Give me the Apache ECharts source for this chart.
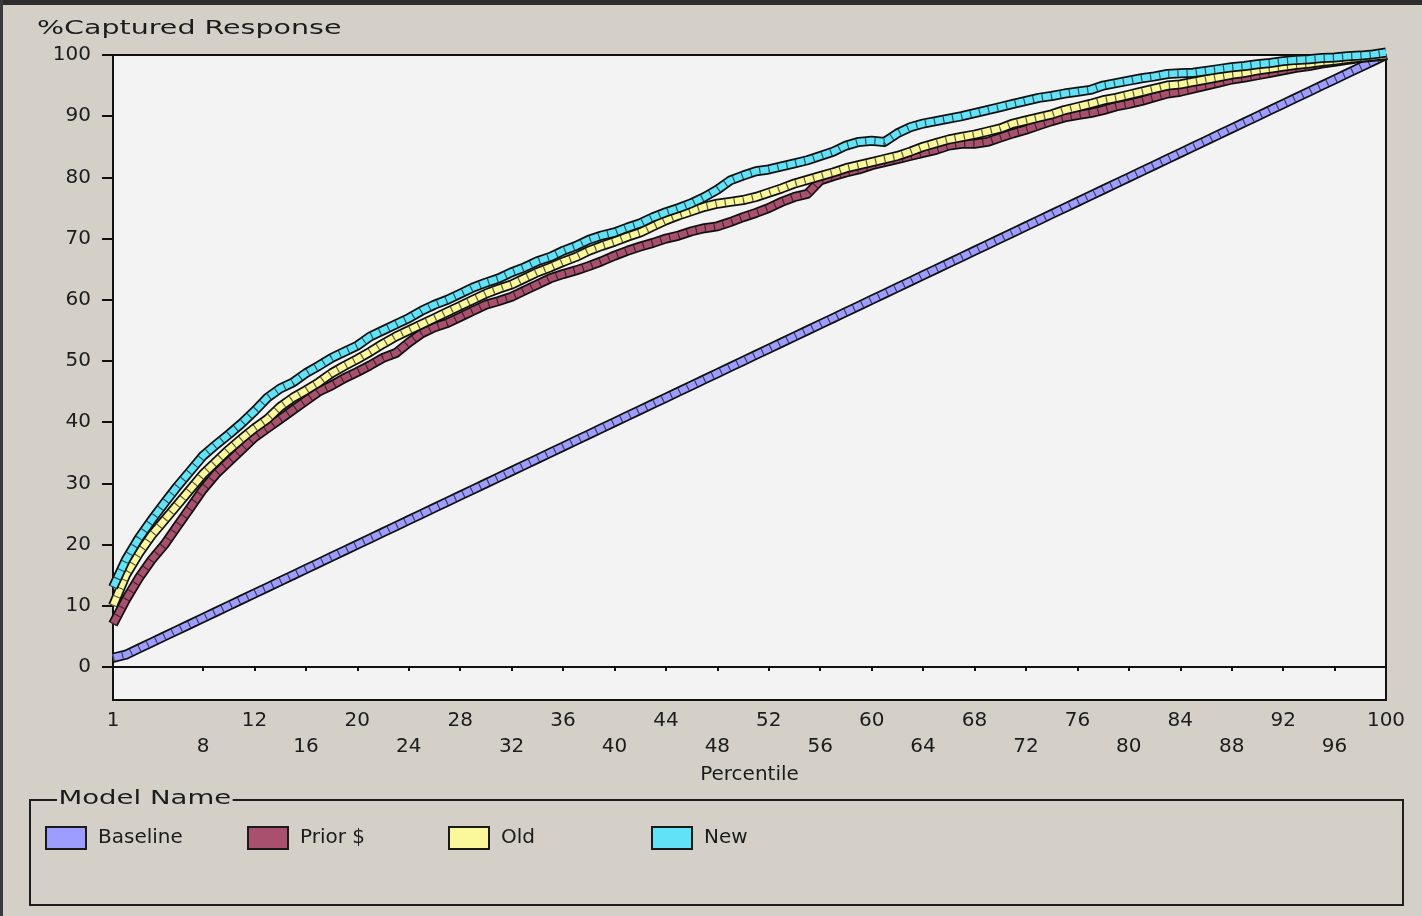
<!DOCTYPE html>
<html>
<head>
<meta charset="utf-8">
<script src="https://cdn.jsdelivr.net/npm/echarts@6/dist/echarts.min.js"></script>
<style>
html,body{margin:0;padding:0;background:#d4d0c8;}
#c{width:1422px;height:916px;}
</style>
</head>
<body>
<div id="c"></div>
<script>
var percentiles = ['1','2','3','4','5','6','7','8','9','10','11','12','13','14','15','16','17','18','19','20','21','22','23','24','25','26','27','28','29','30','31','32','33','34','35','36','37','38','39','40','41','42','43','44','45','46','47','48','49','50','51','52','53','54','55','56','57','58','59','60','61','62','63','64','65','66','67','68','69','70','71','72','73','74','75','76','77','78','79','80','81','82','83','84','85','86','87','88','89','90','91','92','93','94','95','96','97','98','99','100'];

var baseline = [1.5,2,3,4,5,6,7,8,9,10,11,12,13,14,15,16,17,18,19,20,21,22,23,24,25,26,27,28,29,30,31,32,33,34,35,36,37,38,39,40,41,42,43,44,45,46,47,48,49,50,51,52,53,54,55,56,57,58,59,60,61,62,63,64,65,66,67,68,69,70,71,72,73,74,75,76,77,78,79,80,81,82,83,84,85,86,87,88,89,90,91,92,93,94,95,96,97,98,99,100];

var priorDollar = [7, 11, 14.5, 17.5, 20, 23, 26, 29, 31.5, 33.5,
 35.5, 37.5, 39, 40.5, 42, 43.5, 45, 46, 47.2, 48.2,
 49.3, 50.5, 51.3, 53, 54.5, 55.5, 56.2, 57.2, 58.2, 59.2,
 59.8, 60.5, 61.5, 62.5, 63.5, 64.2, 64.8, 65.5, 66.3, 67.2,
 68, 68.7, 69.3, 70, 70.5, 71.2, 71.7, 72, 72.7, 73.5,
 74.2, 75, 76, 76.8, 77.3, 79.5, 80.2, 80.8, 81.3, 82,
 82.5, 83, 83.5, 84, 84.5, 85.2, 85.5, 85.5, 85.8, 86.5,
 87.2, 87.8, 88.5, 89.2, 89.8, 90.2, 90.5, 91, 91.6, 92,
 92.5, 93.1, 93.7, 94, 94.5, 95, 95.5, 96, 96.3, 96.7,
 97.1, 97.5, 97.9, 98.2, 98.6, 98.9, 99.2, 99.5, 99.7, 100];

var oldModel = [10, 15, 18.5, 21.5, 24, 26.5, 29, 31.5, 33.5, 35.5,
 37.3, 39, 40.5, 42.5, 44, 45.2, 46.5, 48, 49.2, 50.3,
 51.5, 52.8, 54, 55, 56, 57, 58, 59, 60, 61,
 61.8, 62.5, 63.5, 64.5, 65.3, 66.2, 67, 68, 68.8, 69.5,
 70.3, 71, 72, 73, 73.8, 74.5, 75.2, 75.7, 76, 76.3,
 76.8, 77.5, 78.2, 79, 79.6, 80.2, 80.8, 81.5, 82, 82.5,
 83, 83.5, 84.2, 85, 85.6, 86.2, 86.6, 87, 87.5, 88,
 88.8, 89.3, 89.8, 90.3, 91, 91.5, 92, 92.6, 93, 93.5,
 94, 94.5, 95, 95.2, 95.6, 96, 96.4, 96.8, 97.1, 97.5,
 97.8, 98.1, 98.4, 98.6, 98.9, 99.1, 99.4, 99.6, 99.8, 100];

var newModel = [13, 17.5, 21, 24, 26.8, 29.5, 32, 34.5, 36.3, 38,
 39.8, 41.8, 44, 45.5, 46.5, 48, 49.2, 50.5, 51.5, 52.5,
 54, 55, 56, 57, 58.2, 59.2, 60, 61, 62, 62.8,
 63.5, 64.5, 65.3, 66.3, 67, 68, 68.8, 69.8, 70.5, 71,
 71.8, 72.5, 73.5, 74.3, 75, 75.8, 76.8, 78, 79.5, 80.3,
 81, 81.3, 81.8, 82.3, 82.8, 83.5, 84.2, 85.2, 85.8, 86,
 85.8, 87.2, 88.2, 88.8, 89.2, 89.6, 90, 90.5, 91, 91.5,
 92, 92.5, 93, 93.3, 93.7, 94, 94.3, 95, 95.4, 95.8,
 96.2, 96.5, 96.9, 97, 97.1, 97.4, 97.7, 98, 98.2, 98.5,
 98.7, 99, 99.2, 99.3, 99.5, 99.6, 99.8, 99.9, 100.1, 100.4];

var yTicks = [0,10,20,30,40,50,60,70,80,90,100];
var modelNames = ['Baseline','Prior $','Old','New'];
var modelColors = ['#9d9dff','#a9506f','#fbf89c','#62e2f6'];
var modelData = [baseline, priorDollar, oldModel, newModel];

var FONT = '"DejaVu Sans", "Liberation Sans", sans-serif';
var TXT = '#1c1c1c';

function showLabel(index, value){
  var v = parseInt(value,10);
  return index === 0 || (v % 4 === 0 && v >= 8);
}

var series = [];
modelNames.forEach(function(name, i){
  series.push({
    name: name + ' outline', type:'line', data: modelData[i], symbol:'none', clip:false,
    lineStyle:{color:'#101010', width:10, join:'round'}, itemStyle:{color:'#101010'},
    silent:true, emphasis:{disabled:true}
  });
  series.push({
    name: name, type:'line', data: modelData[i], symbol:'none', clip:false,
    lineStyle:{color:modelColors[i], width:6.5, join:'round'}, itemStyle:{color:modelColors[i]},
    emphasis:{disabled:true}
  });
  series.push({
    name: name + ' texture', type:'line', data: modelData[i], symbol:'none', clip:false,
    lineStyle:{color:'rgba(20,20,20,0.7)', width:6.5, type:[1.2,8]},
    silent:true, emphasis:{disabled:true}
  });
});

var legendLefts = [45, 247, 448, 651];
var legends = modelNames.map(function(name, i){
  return {
    data:[name], left:legendLefts[i], top:826, orient:'horizontal', padding:0,
    icon:'rect', itemWidth:40, itemHeight:22,
    itemStyle:{borderColor:'#1a1a1a', borderWidth:2},
    formatter:'{s| }{a|{name}}',
    textStyle:{fontFamily:FONT, fontSize:20, color:TXT,
      rich:{s:{width:7, fontSize:20}, a:{fontSize:20, fontFamily:FONT, color:TXT}}},
    selectedMode:false
  };
});

var chart = echarts.init(document.getElementById('c'), null, {renderer:'canvas'});
chart.setOption({
  animation:false,
  backgroundColor:'#d4d0c8',
  textStyle:{fontFamily:FONT},
  grid:{left:113, right:36, top:55, bottom:216, show:true, backgroundColor:'#f3f3f3', borderColor:'#111', borderWidth:2},
  xAxis:{
    type:'category', data:percentiles, boundaryGap:false,
    name:'Percentile', nameLocation:'middle', nameGap:60,
    nameTextStyle:{fontFamily:FONT, fontSize:20, color:TXT},
    axisLine:{lineStyle:{color:'#111', width:2}},
    axisTick:{show:true, interval:showLabel, length:4, lineStyle:{color:'#111', width:2}},
    axisLabel:{
      interval:showLabel, margin:8, fontFamily:FONT, fontSize:20, color:TXT, lineHeight:26,
      formatter:function(v){ return (parseInt(v,10) % 8 === 0) ? '\n' + v : v; }
    },
    splitLine:{show:false}
  },
  yAxis:{
    type:'value', min:-5.4, max:100,
    axisLine:{show:true, lineStyle:{color:'#111', width:2}},
    axisTick:{show:true, length:11, customValues:yTicks, lineStyle:{color:'#111', width:2}},
    axisLabel:{customValues:yTicks, margin:22, fontFamily:FONT, fontSize:20, color:TXT},
    splitLine:{show:false}
  },
  legend:legends,
  graphic:[
    {type:'rect', left:0, top:0, shape:{width:1422, height:5}, style:{fill:'#2e2e2e'}, z:100},
    {type:'rect', left:0, top:0, shape:{width:3, height:916}, style:{fill:'#3a3a3a'}, z:100},
    {type:'text', x:37, y:29, scaleX:1.5, style:{text:'%Captured Response', font:'19px ' + FONT, fill:TXT, textVerticalAlign:'middle'}},
    {type:'rect', shape:{x:30, y:800, width:1373, height:105}, style:{fill:'none', stroke:'#1e1e1e', lineWidth:2}},
    {type:'text', x:57, y:799, scaleX:1.45, style:{text:'Model Name', font:'19px ' + FONT, fill:TXT, textVerticalAlign:'middle', backgroundColor:'#d4d0c8', padding:[0,1,0,1]}}
  ],
  series:series
});
</script>
</body>
</html>
